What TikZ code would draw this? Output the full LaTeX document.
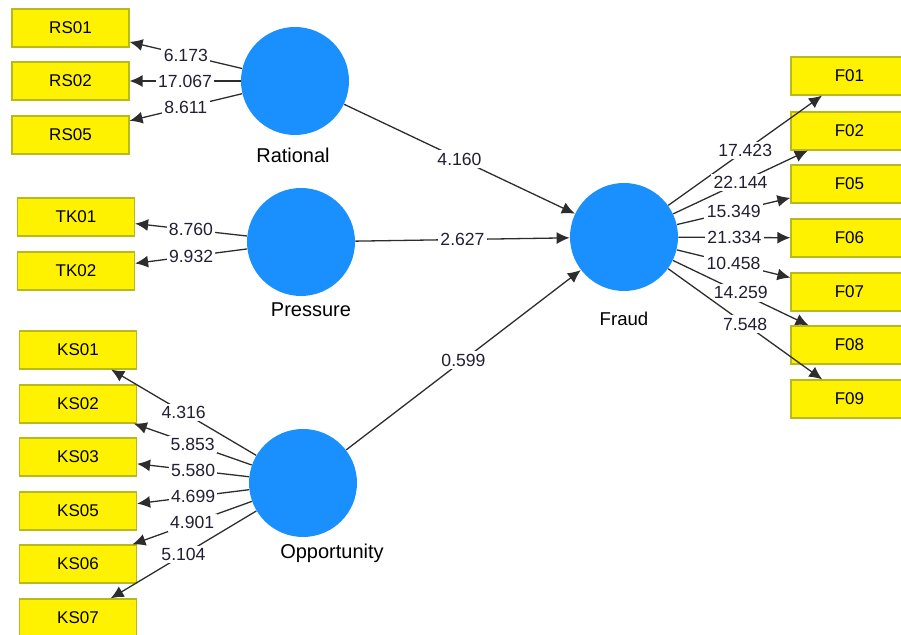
\documentclass[tikz,border=0pt]{standalone}
\usepackage{fontspec}
\setmainfont{Liberation Sans}
\usetikzlibrary{arrows.meta}
\definecolor{lvblue}{RGB}{26,144,255}
\definecolor{boxline}{RGB}{185,185,30}
\definecolor{linegray}{RGB}{45,45,45}
\definecolor{numtext}{RGB}{35,30,50}
\tikzset{
  ind/.style={draw=boxline, fill=yellow, line width=0.6pt, minimum width=58.5pt, minimum height=19pt, inner sep=0pt, font=\fontsize{8.5}{10}\selectfont},
  lv/.style={circle, fill=lvblue, minimum size=54pt, inner sep=0pt},
  lvname/.style={font=\fontsize{10}{12}\selectfont},
  load/.style={draw=linegray, line width=0.65pt, -{Latex[length=6.5pt,width=6pt]}},
  coef/.style={fill=white, inner sep=1.2pt, text=numtext, font=\fontsize{8.8}{10}\selectfont}
}

\begin{document}
\begin{tikzpicture}[x=0.5pt,y=-0.5pt]
    \useasboundingbox (0,0) rectangle (901,635);
    \node[lv] (rat) at (295,81) {};
    \node[lv] (pre) at (301,242) {};
    \node[lv] (opp) at (303,483) {};
    \node[lv] (fra) at (624,237) {};
    \node[lvname] (ratname) at (293,155) {Rational};
    \node[lvname] (prename) at (311,310) {Pressure};
    \node[lvname] (oppname) at (332,553) {Opportunity};
    \node[lvname, font=\fontsize{9.3}{11}\selectfont] (franame) at (624,319) {Fraud};
    \node[ind] (rs01) at (70.5,28) {RS01};
    \node[ind] (rs02) at (70.5,81) {RS02};
    \node[ind] (rs05) at (70.5,135) {RS05};
    \node[ind] (tk01) at (76,217) {TK01};
    \node[ind] (tk02) at (76,271) {TK02};
    \node[ind] (ks01) at (78,350) {KS01};
    \node[ind] (ks02) at (78,404) {KS02};
    \node[ind] (ks03) at (78,457) {KS03};
    \node[ind] (ks05) at (78,511) {KS05};
    \node[ind] (ks06) at (78,564) {KS06};
    \node[ind] (ks07) at (78,618) {KS07};
    \node[ind] (f01) at (849.5,76) {F01};
    \node[ind] (f02) at (849.5,131) {F02};
    \node[ind] (f05) at (849.5,184) {F05};
    \node[ind] (f06) at (849.5,238) {F06};
    \node[ind] (f07) at (849.5,292) {F07};
    \node[ind] (f08) at (849.5,345) {F08};
    \node[ind] (f09) at (849.5,399) {F09};
    \draw[load] (rat) -- node[coef] {6.173} (rs01);
    \draw[load] (rat) -- node[coef] {17.067} (rs02);
    \draw[load] (rat) -- node[coef] {8.611} (rs05);
    \draw[load] (pre) -- node[coef] {8.760} (tk01);
    \draw[load] (pre) -- node[coef] {9.932} (tk02);
    \draw[load] (opp) -- node[coef] {4.316} (ks01);
    \draw[load] (opp) -- node[coef] {5.853} (ks02);
    \draw[load] (opp) -- node[coef] {5.580} (ks03);
    \draw[load] (opp) -- node[coef] {4.699} (ks05);
    \draw[load] (opp) -- node[coef] {4.901} (ks06);
    \draw[load] (opp) -- node[coef] {5.104} (ks07);
    \draw[load] (fra) -- node[coef] {17.423} (f01);
    \draw[load] (fra) -- node[coef] {22.144} (f02);
    \draw[load] (fra) -- node[coef] {15.349} (f05);
    \draw[load] (fra) -- node[coef] {21.334} (f06);
    \draw[load] (fra) -- node[coef] {10.458} (f07);
    \draw[load] (fra) -- node[coef] {14.259} (f08);
    \draw[load] (fra) -- node[coef] {7.548} (f09);
    \draw[load] (rat) -- node[coef] {4.160} (fra);
    \draw[load] (pre) -- node[coef] {2.627} (fra);
    \draw[load] (opp) -- node[coef] {0.599} (fra);
\end{tikzpicture}
\end{document}
